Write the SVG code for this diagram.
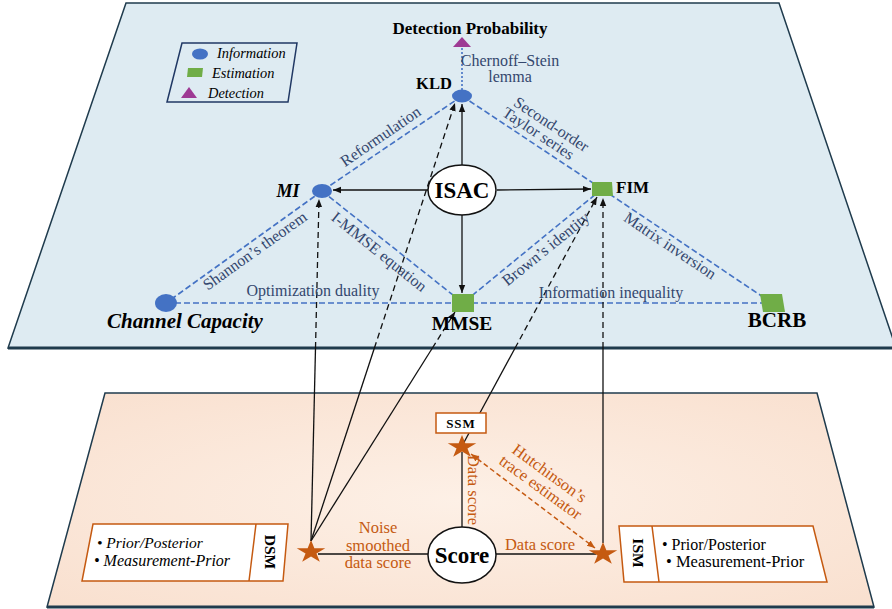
<svg xmlns="http://www.w3.org/2000/svg" width="892" height="609" viewBox="0 0 892 609">
<style>
.serif{font-family:"Liberation Serif","Times New Roman",serif}
.bold{font-weight:bold}
.lbl{font-family:"Liberation Serif","Times New Roman",serif;fill:#34476e;font-size:16px}
.olbl{font-family:"Liberation Serif","Times New Roman",serif;fill:#c55a11;font-size:16.5px}
.bdash{stroke:#4472c4;stroke-width:1.6;stroke-dasharray:6,3;fill:none}
.solid{stroke:#111;stroke-width:1.3;fill:none}
.dash{stroke:#111;stroke-width:1.3;stroke-dasharray:6,4;fill:none}
.info{fill:#4472c4}
.est{fill:#70ad47}
.det{fill:#9e3a94}
.star{fill:#c55a11}
.obox{fill:#fff;stroke:#c55a11;stroke-width:1.5}
</style>
<defs>
<marker id="ah" viewBox="0 0 10 10" refX="10" refY="5" markerWidth="8" markerHeight="8" orient="auto" markerUnits="userSpaceOnUse"><path d="M0,1 L10,5 L0,9 z" fill="#111"/></marker>
<marker id="oah" viewBox="0 0 10 10" refX="10" refY="5" markerWidth="8" markerHeight="8" orient="auto-start-reverse" markerUnits="userSpaceOnUse"><path d="M0,1 L10,5 L0,9 z" fill="#c55a11"/></marker>
<polygon id="starshape" points="0,-12 3.37,-3.71 14.27,-3.71 5.45,1.42 8.82,9.71 0,4.58 -8.82,9.71 -5.45,1.42 -14.27,-3.71 -3.37,-3.71"/>
<radialGradient id="peach" cx="0.5" cy="0.5" r="0.7">
<stop offset="0" stop-color="#fdf0e6"/>
<stop offset="1" stop-color="#f9e0cf"/>
</radialGradient>
</defs>

<!-- planes -->
<g id="plane-top">
<polygon points="126,3 779,3 896,348 8,348" fill="#deebf2" stroke="#1f3b4d" stroke-width="1.5"/>
<line x1="8" y1="348" x2="892" y2="348" stroke="#1f3b4d" stroke-width="3"/>
</g>
<g id="plane-bottom">
<polygon points="105,393 817,393 874,607 47,607" fill="url(#peach)" stroke="#1f3b4d" stroke-width="1.5"/>
<line x1="47" y1="607" x2="874" y2="607" stroke="#1f3b4d" stroke-width="3"/>
</g>

<!-- legend -->
<g id="legend">
<polygon points="182,43 297,43 288,102 167,102" fill="none" stroke="#203864" stroke-width="1.5"/>
<ellipse cx="200" cy="54" rx="8" ry="5.5" class="info"/>
<text x="217" y="58" class="serif" font-style="italic" font-size="14.4">Information</text>
<polygon points="188,68 203,68 202,77 187,77" class="est"/>
<text x="212" y="78" class="serif" font-style="italic" font-size="14.4">Estimation</text>
<polygon points="189,87 197,98 181,98" class="det"/>
<text x="208" y="98" class="serif" font-style="italic" font-size="14.4">Detection</text>
</g>

<!-- connectors -->
<g id="connectors">
<!-- blue relations -->
<line x1="462" y1="48" x2="462" y2="90" stroke="#4472c4" stroke-width="1.6" stroke-dasharray="2,2"/>
<line x1="462" y1="96" x2="322" y2="191" class="bdash"/>
<line x1="462" y1="96" x2="602" y2="189" class="bdash"/>
<line x1="322" y1="191" x2="166" y2="303" class="bdash"/>
<line x1="322" y1="191" x2="463" y2="303" class="bdash"/>
<line x1="602" y1="189" x2="463" y2="303" class="bdash"/>
<line x1="602" y1="189" x2="772" y2="303" class="bdash"/>
<line x1="166" y1="303" x2="772" y2="303" class="bdash"/>
<!-- ISAC arrows -->
<line x1="462" y1="165" x2="462" y2="104" class="solid" marker-end="url(#ah)"/>
<line x1="428" y1="190" x2="333" y2="190" class="solid" marker-end="url(#ah)"/>
<line x1="497" y1="190" x2="591" y2="189" class="solid" marker-end="url(#ah)"/>
<line x1="462" y1="215" x2="462" y2="293" class="solid" marker-end="url(#ah)"/>
<!-- cross-plane links -->
<line x1="311" y1="541" x2="315.5" y2="348" class="solid"/>
<line x1="315.5" y1="348" x2="319" y2="199" class="dash" marker-end="url(#ah)"/>
<line x1="311" y1="541" x2="374.4" y2="348" class="solid"/>
<line x1="374.4" y1="348" x2="455" y2="103" class="dash" marker-end="url(#ah)"/>
<line x1="311" y1="541" x2="432.4" y2="348" class="solid"/>
<line x1="432.4" y1="348" x2="455" y2="312" class="dash" marker-end="url(#ah)"/>
<line x1="462" y1="446" x2="515.1" y2="348" class="solid"/>
<line x1="515.1" y1="348" x2="597" y2="197" class="dash" marker-end="url(#ah)"/>
<line x1="603" y1="543" x2="603" y2="348" class="solid"/>
<line x1="603" y1="348" x2="603" y2="198" class="dash" marker-end="url(#ah)"/>
<!-- score links -->
<line x1="428" y1="554" x2="318" y2="554" class="solid"/>
<line x1="496" y1="554" x2="596" y2="554" class="solid"/>
<line x1="462" y1="527" x2="462" y2="452" class="solid"/>
<line x1="471" y1="454" x2="595" y2="548" stroke="#c55a11" stroke-width="1.5" stroke-dasharray="5,3" marker-start="url(#oah)" marker-end="url(#oah)"/>
</g>

<!-- relation labels -->
<g id="relation-labels">
<text x="510" y="66" class="lbl" font-size="14" text-anchor="middle">Chernoff–Stein</text>
<text x="510" y="82" class="lbl" font-size="14" text-anchor="middle">lemma</text>
<text transform="translate(381,137) rotate(-34.5)" x="0" y="4.5" class="lbl" font-size="14.5" text-anchor="middle">Reformulation</text>
<text transform="translate(551,125) rotate(33.4)" x="0" y="4.5" class="lbl" font-size="14.5" text-anchor="middle">Second-order</text>
<text transform="translate(538,134) rotate(33.4)" x="0" y="4.5" class="lbl" font-size="14.5" text-anchor="middle">Taylor series</text>
<text transform="translate(255,251) rotate(-35.5)" x="0" y="5" class="lbl" font-size="16.5" text-anchor="middle">Shannon’s theorem</text>
<text transform="translate(379,252) rotate(38.7)" x="0" y="5" class="lbl" font-size="15.5" text-anchor="middle">I-MMSE equation</text>
<text transform="translate(546,249) rotate(-39)" x="0" y="5" class="lbl" font-size="16" text-anchor="middle">Brown’s identity</text>
<text transform="translate(670,246) rotate(33.8)" x="0" y="5" class="lbl" font-size="16" text-anchor="middle">Matrix inversion</text>
<text x="313" y="296" class="lbl" font-size="19.5" text-anchor="middle">Optimization duality</text>
<text x="611" y="298" class="lbl" font-size="20" text-anchor="middle">Information inequality</text>
</g>

<!-- top-plane nodes -->
<g id="node-detection">
<text x="470" y="34" class="serif bold" font-size="17" text-anchor="middle">Detection Probability</text>
<polygon points="462,37 471,47 453,47" class="det"/>
</g>
<g id="node-kld">
<ellipse cx="462" cy="96" rx="10" ry="6.5" class="info"/>
<text x="434" y="89" class="serif bold" font-size="16.5" text-anchor="middle">KLD</text>
</g>
<g id="node-mi">
<ellipse cx="322" cy="191" rx="10" ry="7" class="info"/>
<text x="288" y="197" class="serif bold" font-style="italic" font-size="18" text-anchor="middle">MI</text>
</g>
<g id="node-isac">
<ellipse cx="462" cy="190" rx="34" ry="25" fill="#fff" stroke="#111" stroke-width="1.5"/>
<text x="462" y="198" class="serif bold" font-size="23" text-anchor="middle">ISAC</text>
</g>
<g id="node-fim">
<polygon points="592,182 612,182 613,196 592,196" class="est"/>
<text x="616" y="193" class="serif bold" font-size="17">FIM</text>
</g>
<g id="node-mmse">
<rect x="452" y="294" width="22" height="18" class="est"/>
<text x="462" y="330" class="serif bold" font-size="19.5" text-anchor="middle">MMSE</text>
</g>
<g id="node-cc">
<ellipse cx="166" cy="303" rx="11" ry="9" class="info"/>
<text x="185" y="328" class="serif bold" font-style="italic" font-size="21" text-anchor="middle">Channel Capacity</text>
</g>
<g id="node-bcrb">
<polygon points="760,294 782,294 785,312 763,312" class="est"/>
<text x="777" y="327" class="serif bold" font-size="21" text-anchor="middle">BCRB</text>
</g>

<!-- bottom-plane nodes -->
<g id="node-ssm">
<rect x="436" y="413" width="50" height="20" class="obox"/>
<text x="461" y="428" class="serif bold" font-size="13" letter-spacing="1" text-anchor="middle">SSM</text>
</g>
<g id="star-ssm"><use href="#starshape" class="star" transform="translate(462,447)"/></g>
<g id="node-score">
<ellipse cx="462" cy="555" rx="34" ry="28" fill="#fff" stroke="#111" stroke-width="1.5"/>
<text x="462" y="563" class="serif bold" font-size="23" text-anchor="middle">Score</text>
</g>
<g id="star-dsm"><use href="#starshape" class="star" transform="translate(311,552)"/></g>
<g id="star-ism"><use href="#starshape" class="star" transform="translate(603,554)"/></g>
<g id="node-dsm">
<polygon points="93,524 288,524 283,581 82,581" class="obox"/>
<line x1="256" y1="524" x2="249" y2="581" stroke="#c55a11" stroke-width="1.5"/>
<text transform="translate(270,552) rotate(90)" x="0" y="5.5" class="serif bold" font-size="15.5" text-anchor="middle">DSM</text>
<text x="97" y="548" class="serif" font-style="italic" font-size="15.5">• Prior/Posterior</text>
<text x="94" y="566" class="serif" font-style="italic" font-size="16">• Measurement-Prior</text>
</g>
<g id="node-ism">
<polygon points="619,526 813,526 827,582 624,582" class="obox"/>
<line x1="652" y1="526" x2="659" y2="582" stroke="#c55a11" stroke-width="1.5"/>
<text transform="translate(638,553) rotate(90)" x="0" y="5.5" class="serif bold" font-size="15.5" text-anchor="middle">ISM</text>
<text x="662" y="550" class="serif" font-size="16">• Prior/Posterior</text>
<text x="666" y="567" class="serif" font-size="16.5">• Measurement-Prior</text>
</g>

<!-- bottom labels -->
<g id="score-labels">
<text x="378" y="533" class="olbl" font-size="14.5" text-anchor="middle">Noise</text>
<text x="378" y="550.5" class="olbl" font-size="14.5" text-anchor="middle">smoothed</text>
<text x="378" y="568" class="olbl" font-size="14.5" text-anchor="middle">data score</text>
<text x="540" y="550" class="olbl" text-anchor="middle">Data score</text>
<text transform="translate(472,490) rotate(90)" x="0" y="4.5" class="olbl" font-size="13.5" text-anchor="middle">Data score</text>
<text transform="translate(549,474) rotate(36)" x="0" y="4.5" class="olbl" font-size="14" text-anchor="middle">Hutchinson’s</text>
<text transform="translate(540,488) rotate(36)" x="0" y="4.5" class="olbl" font-size="14" text-anchor="middle">trace estimator</text>
</g>
</svg>
